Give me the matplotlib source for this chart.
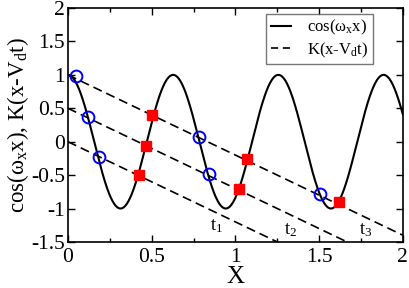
import numpy as np
import matplotlib
matplotlib.use("Agg")
import matplotlib.pyplot as plt
from matplotlib.ticker import MultipleLocator
from matplotlib.lines import Line2D

# ---- data ----
omega_x = 10.0                      # angular frequency of the cosine
K_slope = -1.2                      # slope of the dashed lines
line_offsets = [0.0, 0.5, 1.0]      # intercepts for t1, t2, t3
line_labels = ["$t_1$", "$t_2$", "$t_3$"]
label_x = [0.89, 1.33, 1.78]
label_y = [-1.27, -1.32, -1.32]

circle_x = [0.046, 0.121, 0.185, 0.784, 0.842, 1.504]
circle_y = [0.985, 0.366, -0.234, 0.075, -0.484, -0.79]

square_x = [0.422, 0.464, 0.505, 1.023, 1.067, 1.618]
square_y = [-0.495, -0.06, 0.40, -0.714, -0.264, -0.904]

x_ticks = [0, 0.5, 1, 1.5, 2]
x_ticklabels = ['0', '0.5', '1', '1.5', '2']
y_ticks = [-1.5, -1, -0.5, 0, 0.5, 1, 1.5, 2]
y_ticklabels = ['-1.5', '-1', '-0.5', '0', '0.5', '1', '1.5', '2']

plt.rcParams['font.family'] = ['Liberation Serif', 'DejaVu Serif']
plt.rcParams['mathtext.fontset'] = 'custom'
plt.rcParams['mathtext.rm'] = 'Liberation Serif'
plt.rcParams['mathtext.it'] = 'Liberation Serif'

fig = plt.figure(figsize=(4.09, 2.88), dpi=100)
ax = fig.add_axes([0.166, 0.16, 0.819, 0.812])

xs = np.linspace(0, 2, 800)
ax.plot(xs, np.cos(omega_x * xs), color='black', lw=1.5)
for i, c in enumerate(line_offsets):
    lx = np.linspace(0, 2, 200)
    ax.plot(lx, K_slope * lx + c, color='black', lw=1.2, dashes=(5.5, 3))
    ax.text(label_x[i], label_y[i], line_labels[i], fontsize=13.5, ha='center', va='center')

ax.plot(circle_x, circle_y, 'o', ms=8.5, mfc='none', mec='#0000ff', mew=1.4, zorder=5)
ax.plot(square_x, square_y, 's', ms=7, mfc='#ff0000', mec='#ff0000', zorder=5)

ax.set_xlim(0, 2)
ax.set_ylim(-1.5, 2)
ax.xaxis.set_minor_locator(MultipleLocator(0.25))
ax.set_xticks(x_ticks)
ax.set_xticklabels(x_ticklabels)
ax.set_yticks(y_ticks)
ax.set_yticklabels(y_ticklabels)
ax.tick_params(which='both', direction='in', top=True, right=True, width=1)
ax.tick_params(which='major', length=5, labelsize=15.5)
ax.tick_params(which='minor', length=3)
ax.tick_params(axis='x', which='major', pad=4.5)
ax.tick_params(axis='y', which='major', pad=2)
for s in ax.spines.values():
    s.set_linewidth(1.2)

ax.set_xlabel('X', fontsize=18, labelpad=-1)
ax.set_ylabel(r'cos($\mathregular{\omega_x}$x), K(x-V$\mathregular{_d}$t)', fontsize=16.5, labelpad=0)

handles = [Line2D([], [], color='black', lw=1.5),
           Line2D([], [], color='black', lw=1.2, dashes=(4.3, 2.8))]
labels = [r'cos($\mathregular{\omega_x}$x)', r'K(x-V$\mathregular{_d}$t)']
leg = ax.legend(handles, labels, loc='upper right', bbox_to_anchor=(0.91, 0.975), fontsize=12,
                frameon=True, fancybox=False, edgecolor='#555555', handlelength=1.2,
                borderpad=0.25, labelspacing=0.2, handletextpad=1.0, borderaxespad=0)
leg.get_frame().set_linewidth(1.0)

fig.savefig('out.png', dpi=100)
